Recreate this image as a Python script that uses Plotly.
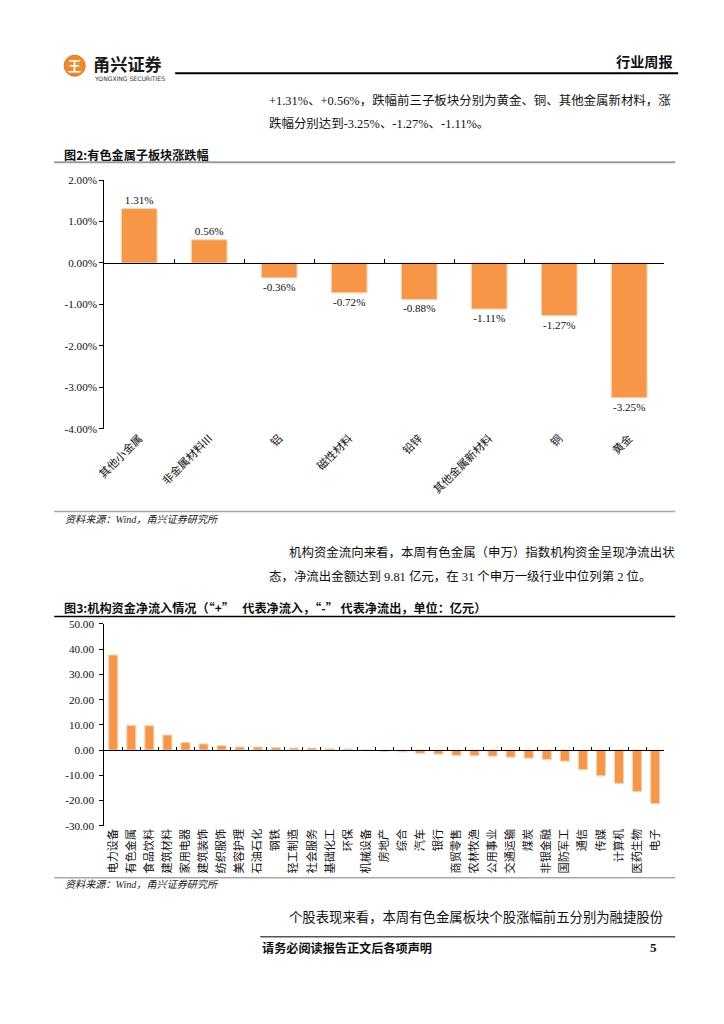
import plotly.graph_objects as go

W, H = 724, 1024

# ---------------- data ----------------
sub_cats = ["其他小金属", "非金属材料III", "铝", "磁性材料", "铅锌", "其他金属新材料", "铜", "黄金"]
sub_vals = [1.31, 0.56, -0.36, -0.72, -0.88, -1.11, -1.27, -3.25]
sub_yticks = [2, 1, 0, -1, -2, -3, -4]

ind_cats = ["电力设备", "有色金属", "食品饮料", "建筑材料", "家用电器", "建筑装饰", "纺织服饰",
            "美容护理", "石油石化", "钢铁", "轻工制造", "社会服务", "基础化工", "环保", "机械设备",
            "房地产", "综合", "汽车", "银行", "商贸零售", "农林牧渔", "公用事业", "交通运输", "煤炭",
            "非银金融", "国防军工", "通信", "传媒", "计算机", "医药生物", "电子"]
ind_vals = [37.7, 9.8, 9.65, 5.95, 3.05, 2.4, 1.75, 1.2, 1.2, 1.05, 0.8, 0.8, 0.5, 0.4, 0.05,
            -0.5, -0.7, -1.3, -1.6, -2.1, -2.25, -2.4, -2.8, -3.2, -3.7, -4.4, -7.7, -10.2,
            -13.2, -16.4, -21.2]
ind_yticks = [50, 40, 30, 20, 10, 0, -10, -20, -30]

# ---------------- style ----------------
ORANGE = "#F79646"
EDGE = "#FBD4B4"
SERIF = "Liberation Serif, Noto Sans CJK SC"
CJK = "Noto Sans CJK SC"

# page pixel -> figure pixel compensation for the capture
SC, OFF = 0.9876, 6.8


def fs(s):
    return s / SC


def X(p):
    return ((p - OFF) / SC) / W


def Y(p):
    return 1 - ((p - OFF) / SC) / H


# chart boxes in page pixels
C1 = dict(l=102, r=662, t=180.7, b=429.3)
C2 = dict(l=102, r=662, t=624.3, b=826)
R1 = [min(sub_yticks), max(sub_yticks)]
R2 = [min(ind_yticks), max(ind_yticks)]


def zero_pos(box, rng):
    lo, hi = Y(box["b"]), Y(box["t"])
    return lo + (0 - rng[0]) / (rng[1] - rng[0]) * (hi - lo)


fig = go.Figure()

fig.add_trace(go.Bar(
    x=sub_cats, y=sub_vals, xaxis="x", yaxis="y", width=0.51,
    marker=dict(color=ORANGE, line=dict(color=EDGE, width=1)),
    text=[f"{v:.2f}%" for v in sub_vals], textposition="outside", textangle=0,
    constraintext="none", cliponaxis=False,
    textfont=dict(family=SERIF, size=fs(11), color="#111"), hoverinfo="skip", showlegend=False))
fig.add_trace(go.Scatter(x=sub_cats, y=sub_vals, xaxis="x3", yaxis="y", mode="none",
                         hoverinfo="skip", showlegend=False))

fig.add_trace(go.Bar(
    x=ind_cats, y=ind_vals, xaxis="x2", yaxis="y2", width=0.5,
    marker=dict(color=ORANGE, line=dict(color=EDGE, width=1)),
    hoverinfo="skip", showlegend=False))
fig.add_trace(go.Scatter(x=ind_cats, y=ind_vals, xaxis="x4", yaxis="y2", mode="none",
                         hoverinfo="skip", showlegend=False))

axis_common = dict(showgrid=False, zeroline=False, fixedrange=True)

fig.update_layout(
    width=W, height=H, autosize=False,
    margin=dict(l=0, r=0, t=0, b=0),
    paper_bgcolor="white", plot_bgcolor="rgba(0,0,0,0)",
    showlegend=False,
    xaxis=dict(domain=[X(C1["l"]), X(C1["r"])], anchor="y", type="category",
               categoryorder="array", categoryarray=sub_cats, range=[-0.5, len(sub_cats) - 0.5],
               showline=False, ticks="", tickangle=-45,
               tickfont=dict(family=CJK, size=fs(11), color="#111"), **axis_common),
    yaxis=dict(domain=[Y(C1["b"]), Y(C1["t"])], anchor="x", range=R1,
               tickvals=sub_yticks, ticktext=[f"{v:.2f}%" for v in sub_yticks],
               showline=True, linecolor="black", linewidth=1, ticks="outside", ticklen=4,
               tickcolor="black", tickfont=dict(family=SERIF, size=fs(11), color="#111"),
               **axis_common),
    xaxis3=dict(overlaying="x", anchor="free", position=zero_pos(C1, R1), type="category",
                categoryorder="array", categoryarray=sub_cats, range=[-0.5, len(sub_cats) - 0.5],
                showline=True, linecolor="black", linewidth=1, ticks="inside",
                tickson="boundaries", ticklen=4, tickcolor="black", showticklabels=False,
                **axis_common),
    xaxis2=dict(domain=[X(C2["l"]), X(C2["r"])], anchor="y2", type="category",
                categoryorder="array", categoryarray=ind_cats, range=[-0.5, len(ind_cats) - 0.5],
                showline=False, ticks="", tickangle=-90,
                tickfont=dict(family=CJK, size=fs(11), color="#111"), **axis_common),
    yaxis2=dict(domain=[Y(C2["b"]), Y(C2["t"])], anchor="x2", range=R2,
                tickvals=ind_yticks, ticktext=[f"{v:.2f}" for v in ind_yticks],
                showline=True, linecolor="black", linewidth=1, ticks="outside", ticklen=4,
                tickcolor="black", tickfont=dict(family=SERIF, size=fs(11), color="#111"),
                ticklabelstandoff=3, **axis_common),
    xaxis4=dict(overlaying="x2", anchor="free", position=zero_pos(C2, R2), type="category",
                categoryorder="array", categoryarray=ind_cats, range=[-0.5, len(ind_cats) - 0.5],
                showline=True, linecolor="black", linewidth=1, ticks="inside",
                tickson="boundaries", ticklen=3, tickcolor="black", showticklabels=False,
                **axis_common),
)

# ---------------- page decoration ----------------
shapes = []


def hline(x0, x1, y, color, width):
    shapes.append(dict(type="line", xref="paper", yref="paper", x0=X(x0), x1=X(x1),
                       y0=Y(y), y1=Y(y), line=dict(color=color, width=width)))


hline(173, 676, 74, "black", 2)          # header rule
hline(52, 673, 163, "#9a9a9a", 2)        # fig 2 title rule
hline(52, 673, 512, "#a8a8a8", 1.5)      # fig 2 source rule
hline(52, 673, 617, "black", 1.5)        # fig 3 title rule
hline(52, 673, 878, "#a8a8a8", 1.5)      # fig 3 source rule
hline(258, 673, 937, "black", 1)         # footer rule

# logo circle
shapes.append(dict(type="circle", xref="paper", yref="paper", x0=X(62), x1=X(83),
                   y0=Y(77), y1=Y(56), fillcolor="#F08A28", line=dict(color="#E8731C", width=1)))

annotations = []


def text(x, y, s, size=12.5, family=SERIF, color="#111", anchor="left", bold=False, italic=False):
    if bold:
        s = f"<b>{s}</b>"
    if italic:
        s = f"<i>{s}</i>"
    annotations.append(dict(xref="paper", yref="paper", x=X(x), y=Y(y), text=s,
                            showarrow=False, xanchor=anchor, yanchor="middle",
                            font=dict(family=family, size=fs(size), color=color)))


# header
text(72.5, 66.5, "王", size=13, family=CJK, color="white", anchor="center", bold=True)
text(89, 64, "甬兴证券", size=17, family=CJK, color="#1a1a1a", bold=True)
text(90, 79, "YONGXING SECURITIES", size=6, family="DejaVu Sans", color="#333")
text(673, 62, "行业周报", size=14, family=CJK, color="#111", anchor="right", bold=True)

# body text
text(265, 101, "+1.31%、+0.56%，跌幅前三子板块分别为黄金、铜、其他金属新材料，涨", size=12.3)
text(265, 124, "跌幅分别达到-3.25%、-1.27%、-1.11%。", size=12.3)
text(60, 155, "图2:有色金属子板块涨跌幅", size=12, family=CJK, bold=True)
text(61, 520, "资料来源：Wind，甬兴证券研究所", size=10, italic=True, color="#222")
text(285, 553, "机构资金流向来看，本周有色金属（申万）指数机构资金呈现净流出状", size=12.3)
text(265, 577, "态，净流出金额达到 9.81 亿元，在 31 个申万一级行业中位列第 2 位。", size=12.3)
text(60, 608, "图3:机构资金净流入情况（“+”&#160;&#160;&#160;代表净流入，“-”&#160;代表净流出，单位：亿元）",
     size=12, family=CJK, bold=True)
text(61, 885, "资料来源：Wind，甬兴证券研究所", size=10, italic=True, color="#222")
text(285, 917, "个股表现来看，本周有色金属板块个股涨幅前五分别为融捷股份", size=13.2)
text(258, 948, "请务必阅读报告正文后各项声明", size=12, family=CJK, bold=True)
text(651, 948, "5", size=13, family="Liberation Serif", anchor="center", bold=True)

fig.update_layout(shapes=shapes, annotations=annotations)

fig.write_html("out.html", config={"displayModeBar": False, "staticPlot": True},
               post_script="document.body.style.margin='0';document.body.style.padding='0';")
